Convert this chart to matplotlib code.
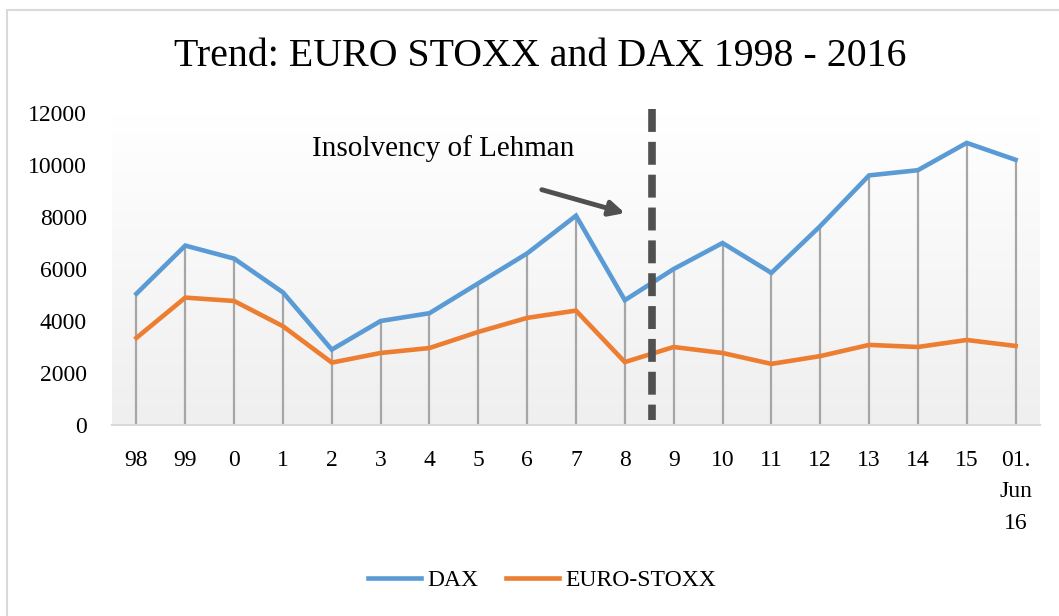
import numpy as np
import matplotlib
import matplotlib.pyplot as plt
from matplotlib.patches import Rectangle

matplotlib.use('Agg')

plt.rcParams['font.family'] = ['Liberation Serif', 'DejaVu Serif']

# data
categories = ['98', '99', '0', '1', '2', '3', '4', '5', '6', '7', '8', '9',
              '10', '11', '12', '13', '14', '15', '01.\nJun\n16']
dax = [5050, 6900, 6400, 5100, 2900, 4000, 4300, 5450, 6600, 8050,
       4800, 6000, 7000, 5850, 7650, 9600, 9800, 10850, 10200]
euro_stoxx = [3350, 4900, 4770, 3800, 2400, 2770, 2960, 3580, 4120, 4400,
              2420, 3000, 2770, 2350, 2650, 3080, 3000, 3270, 3040]
y_ticks = [0, 2000, 4000, 6000, 8000, 10000, 12000]
lehman_pos = 10.55  # between '8' and '9'

fig = plt.figure(figsize=(10.59, 6.16), dpi=100)
ax = fig.add_axes([112 / 1059, 191 / 616, 928 / 1059, 312 / 616])

x = np.arange(len(categories))

# background gradient of the plot area
grad = np.linspace(0, 1, 256).reshape(-1, 1)
cmap = matplotlib.colors.LinearSegmentedColormap.from_list('bg', ['#ffffff', '#efefef'])
ax.imshow(grad, aspect='auto', cmap=cmap, extent=(-0.5, len(x) - 0.5, 0, 12000),
          origin='upper', zorder=0)

# drop lines
ax.vlines(x, 0, np.maximum(dax, euro_stoxx), color='#a6a6a6', linewidth=1.6, zorder=1)

ax.plot(x, dax, color='#5b9bd5', linewidth=3.3, label='DAX', zorder=3,
        solid_joinstyle='miter')
ax.plot(x, euro_stoxx, color='#ed7d31', linewidth=3.3, label='EURO-STOXX', zorder=3,
        solid_joinstyle='miter')

# Lehman marker
ax.plot([lehman_pos, lehman_pos], [12150, 200], color='#505050', linewidth=5.5,
        linestyle=(0, (3.0, 1.3)), zorder=4, clip_on=False)
ax.annotate('', xy=(10.0, 8150), xytext=(8.3, 9050),
            arrowprops=dict(arrowstyle='-|>,head_length=0.9,head_width=0.45',
                            color='#505050', linewidth=3.5, shrinkA=0, shrinkB=0))
ax.text(6.28, 10650, 'Insolvency of Lehman', fontsize=21, ha='center', va='center')

ax.set_xlim(-0.5, len(x) - 0.5)
ax.set_ylim(0, 12000)
ax.set_yticks(y_ticks)
ax.set_xticks(x)
ax.set_xticklabels(categories, linespacing=1.65, va='top')
ax.tick_params(axis='both', length=0, labelsize=17)
ax.tick_params(axis='x', pad=18)
ax.tick_params(axis='y', pad=18)
for s in ['top', 'right', 'left']:
    ax.spines[s].set_visible(False)
ax.spines['bottom'].set_color('#d9d9d9')
ax.spines['bottom'].set_linewidth(1.5)
ax.spines['bottom'].set_zorder(5)

fig.text(540 / 1059, 1 - 57 / 616, 'Trend: EURO STOXX and DAX 1998 - 2016',
         fontsize=28.7, ha='center', va='center')

fig.legend(loc='center', bbox_to_anchor=(542 / 1059, 1 - 580 / 616), ncol=2,
           frameon=False, fontsize=17, handlelength=2.25, columnspacing=1.2,
           handletextpad=0.25)

# chart border
fig.patches.append(Rectangle((7 / 1059, -0.1), 1.2, 1 - 10 / 616 + 0.1,
                             transform=fig.transFigure, fill=False,
                             edgecolor='#d9d9d9', linewidth=1.5))

fig.savefig('out.png', dpi=100)
